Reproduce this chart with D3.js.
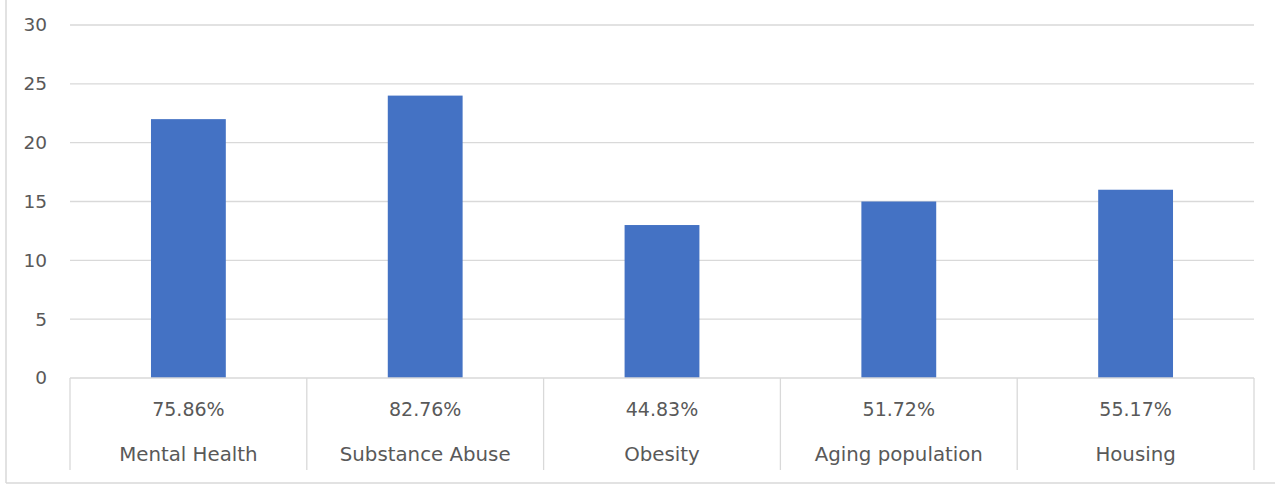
<!DOCTYPE html>
<html><head><meta charset="utf-8">
<script src="https://cdn.jsdelivr.net/npm/d3@7"></script>
<style>body{margin:0;background:#fff}svg{display:block}</style>
</head><body>
<script>
const categories = ["Mental Health","Substance Abuse","Obesity","Aging population","Housing"];
const percentLabels = ["75.86%","82.76%","44.83%","51.72%","55.17%"];
const values = [22,24,13,15,16];
const yTicks = [0,5,10,15,20,25,30];

const W=1275,H=487;
const svg=d3.select("body").append("svg").attr("width",W).attr("height",H);
const font="'DejaVu Sans', Verdana, sans-serif";
const textColor="#595959", gridColor="#d9d9d9";

// outer border (left and bottom visible)
svg.append("line").attr("x1",6).attr("x2",6).attr("y1",0).attr("y2",483).attr("stroke",gridColor).attr("stroke-width",1.5);
svg.append("line").attr("x1",6).attr("x2",W).attr("y1",483).attr("y2",483).attr("stroke",gridColor).attr("stroke-width",1.5);

const x0=70,x1=1254,yTop=25,yBot=378;
const x=d3.scaleBand().domain(categories).range([x0,x1]).paddingInner(0).paddingOuter(0);
const y=d3.scaleLinear().domain([0,30]).range([yBot,yTop]);

// gridlines
svg.append("g").selectAll("line").data(yTicks.filter(d=>d>0)).join("line")
  .attr("x1",x0).attr("x2",x1).attr("y1",d=>y(d)).attr("y2",d=>y(d))
  .attr("stroke",gridColor).attr("stroke-width",1.3);

// y labels
svg.append("g").selectAll("text").data(yTicks).join("text")
  .attr("x",47).attr("y",d=>y(d)).attr("dy","0.35em").attr("text-anchor","end")
  .attr("font-family",font).attr("font-size",18.5).attr("fill",textColor).text(d=>d);

// bars
const barW=x.bandwidth()*0.316;
svg.append("g").selectAll("rect").data(values).join("rect")
  .attr("x",(d,i)=>x(categories[i])+x.bandwidth()/2-barW/2)
  .attr("width",barW)
  .attr("y",d=>y(d)).attr("height",d=>y(0)-y(d))
  .attr("fill","#4472c4");

// axis line
svg.append("line").attr("x1",x0).attr("x2",x1).attr("y1",yBot).attr("y2",yBot).attr("stroke",gridColor).attr("stroke-width",1.3);

// separators
const seps=categories.map(c=>x(c)).concat([x1]);
svg.append("g").selectAll("line").data(seps).join("line")
  .attr("x1",d=>d).attr("x2",d=>d).attr("y1",yBot).attr("y2",470)
  .attr("stroke",gridColor).attr("stroke-width",1.3);

// labels
svg.append("g").selectAll("text").data(percentLabels).join("text")
  .attr("x",(d,i)=>x(categories[i])+x.bandwidth()/2).attr("y",409.5).attr("dy","0.35em")
  .attr("text-anchor","middle").attr("font-family",font).attr("font-size",19).attr("fill",textColor).text(d=>d);
svg.append("g").selectAll("text").data(categories).join("text")
  .attr("x",d=>x(d)+x.bandwidth()/2).attr("y",454.5).attr("dy","0.35em")
  .attr("text-anchor","middle").attr("font-family",font).attr("font-size",19.8).attr("fill",textColor).text(d=>d);
</script>
</body></html>
